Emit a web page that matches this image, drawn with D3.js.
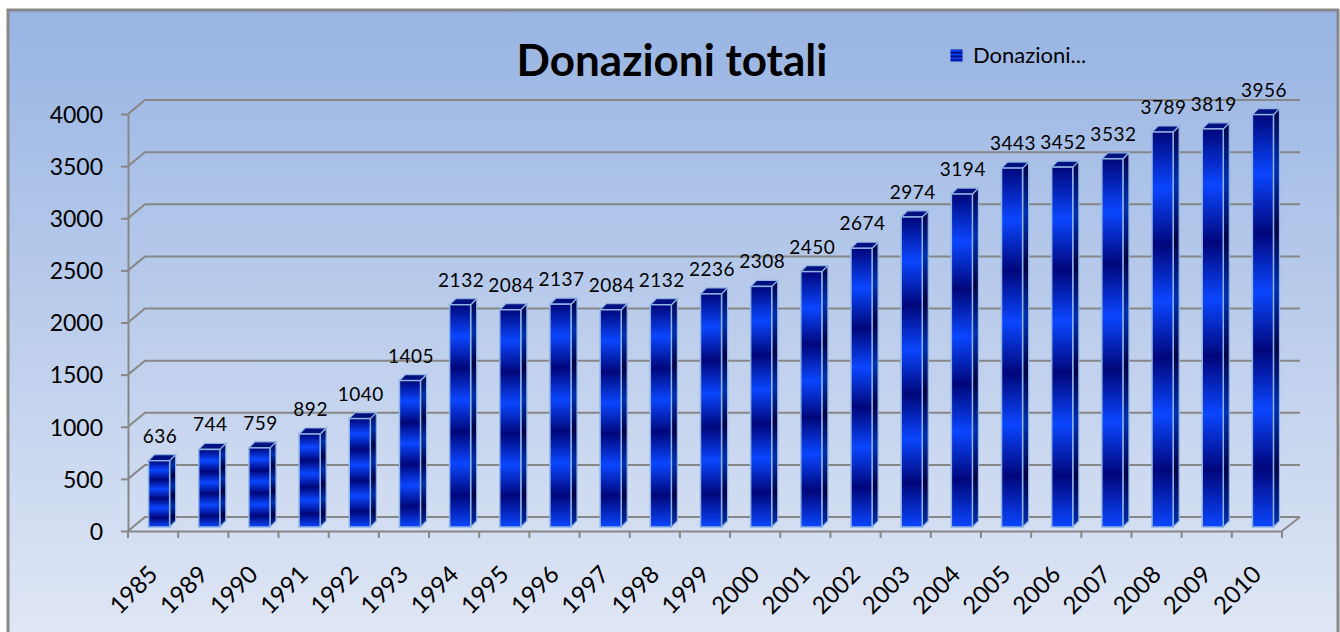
<!DOCTYPE html>
<html>
<head>
<meta charset="utf-8">
<script src="https://cdn.jsdelivr.net/npm/d3@7"></script>
<style>
  html, body { margin: 0; padding: 0; background: #fff; }
  svg { display: block; }
  text { font-family: Lato, "Open Sans", sans-serif; fill: #000; }
</style>
</head>
<body>
<svg id="chart" width="1340" height="632"></svg>
<script>
// dati
const anni = ["1985","1989","1990","1991","1992","1993","1994","1995","1996","1997","1998",
  "1999","2000","2001","2002","2003","2004","2005","2006","2007","2008","2009","2010"];
const donazioni = [636,744,759,892,1040,1405,2132,2084,2137,2084,2132,2236,2308,2450,
  2674,2974,3194,3443,3452,3532,3789,3819,3956];
const tickY = [0,500,1000,1500,2000,2500,3000,3500,4000];
const titolo = "Donazioni totali";
const legenda = "Donazioni...";

const svg = d3.select("#chart");
const W = 1340, H = 632;

// profondità del pavimento/pareti (effetto 3D)
const prof = { dx: 17, dy: -14 };
const barraProf = { dx: 6, dy: -6 };

const x = d3.scaleBand().domain(anni).range([128, 1282]).padding(0);
const y = d3.scaleLinear().domain([0, 4000]).range([531, 114]);

const defs = svg.append("defs");

// sfondo
const gSfondo = defs.append("linearGradient").attr("id", "sfondo")
  .attr("x1", 0).attr("y1", 0).attr("x2", 0).attr("y2", 1);
gSfondo.append("stop").attr("offset", 0).attr("stop-color", "#98b4e3");
gSfondo.append("stop").attr("offset", 1).attr("stop-color", "#e0e7f5");

// bande delle barre
const gFronte = defs.append("linearGradient").attr("id", "fronte")
  .attr("x1", 0).attr("y1", 0).attr("x2", 0).attr("y2", 1 / 3.5)
  .attr("spreadMethod", "repeat");
gFronte.append("stop").attr("offset", 0).attr("stop-color", "#00067a");
gFronte.append("stop").attr("offset", 0.5).attr("stop-color", "#0a46ff");
gFronte.append("stop").attr("offset", 1).attr("stop-color", "#00067a");

const gLato = defs.append("linearGradient").attr("id", "lato")
  .attr("x1", 0).attr("y1", 0).attr("x2", 0).attr("y2", 1 / 3.5)
  .attr("spreadMethod", "repeat");
gLato.append("stop").attr("offset", 0).attr("stop-color", "#000045");
gLato.append("stop").attr("offset", 0.5).attr("stop-color", "#0030b0");
gLato.append("stop").attr("offset", 1).attr("stop-color", "#000045");

svg.append("rect").attr("x", 8).attr("y", 10).attr("width", W - 10).attr("height", H)
  .attr("fill", "url(#sfondo)").attr("stroke", "#888").attr("stroke-width", 3);

// titolo e legenda
svg.append("text").attr("x", 672).attr("y", 76).attr("text-anchor", "middle")
  .attr("font-size", 44).attr("font-weight", "bold").text(titolo);

const leg = svg.append("g").attr("transform", "translate(950,49)");
leg.append("rect").attr("width", 13).attr("height", 13)
  .attr("fill", "url(#fronte)").attr("stroke", "#8fb3e3").attr("stroke-width", 1);
leg.append("text").attr("x", 23).attr("y", 14).attr("font-size", 22).text(legenda);

const grigio = "#878787";

// griglia sulla parete di fondo
const griglia = svg.append("g").attr("stroke", grigio).attr("stroke-width", 2).attr("fill", "none");
griglia.selectAll("path.gl").data(tickY).enter().append("path").attr("class", "gl")
  .attr("d", d => `M128,${y(d)}L${128 + prof.dx},${y(d) + prof.dy}L1300,${y(d) + prof.dy}`);
// lato destro del pavimento
griglia.append("path")
  .attr("d", `M${x.range()[1]},${y(0)}L${x.range()[1] + prof.dx + 1},${y(0) + prof.dy}`);

// asse Y
const assey = svg.append("g").attr("transform", "translate(128,0)")
  .call(d3.axisLeft(y).tickValues(tickY).tickFormat(d3.format("d"))
    .tickSize(7).tickSizeOuter(0).tickPadding(18));
assey.select(".domain").attr("stroke", grigio).attr("stroke-width", 2);
assey.selectAll(".tick line").attr("stroke", grigio).attr("stroke-width", 2);
assey.selectAll(".tick text").attr("font-size", 23).attr("font-family", "Lato").attr("dy", "0.36em");

// asse X
const assex = svg.append("g").attr("transform", `translate(0,${y(0)})`)
  .call(d3.axisBottom(x).tickSize(0).tickSizeOuter(0));
assex.select(".domain").attr("stroke", grigio).attr("stroke-width", 2);
assex.selectAll(".tick text")
  .attr("font-size", 24).attr("font-family", "Lato")
  .attr("text-anchor", "end")
  .attr("transform", "translate(6,45) rotate(-45)")
  .attr("y", 0).attr("dy", 0);
// tacche ai confini delle categorie
assex.selectAll("line.sep").data(anni.concat(["fine"])).enter().append("line")
  .attr("class", "sep")
  .attr("x1", (d, i) => x.range()[0] + i * x.bandwidth())
  .attr("x2", (d, i) => x.range()[0] + i * x.bandwidth())
  .attr("y1", 0).attr("y2", 7)
  .attr("stroke", grigio).attr("stroke-width", 2);

// barre 3D
const alzo = 4; // le barre stanno a metà profondità
const bw = x.bandwidth();
const barre = svg.append("g").selectAll("g").data(anni.map((a, i) => ({ anno: a, valore: donazioni[i] })))
  .enter().append("g");

const x0 = d => x(d.anno) + bw * 0.41;
const larg = bw * 0.42;
const yTop = d => y(d.valore) - alzo;
const yBase = y(0) - alzo;

barre.append("path")
  .attr("d", d => `M${x0(d) + larg},${yTop(d)}L${x0(d) + larg + barraProf.dx},${yTop(d) + barraProf.dy}` +
    `L${x0(d) + larg + barraProf.dx},${yBase + barraProf.dy}L${x0(d) + larg},${yBase}Z`)
  .attr("fill", "url(#lato)").attr("stroke", "#8fb3e3").attr("stroke-width", 1.2);

barre.append("path")
  .attr("d", d => `M${x0(d)},${yTop(d)}L${x0(d) + barraProf.dx},${yTop(d) + barraProf.dy}` +
    `L${x0(d) + larg + barraProf.dx},${yTop(d) + barraProf.dy}L${x0(d) + larg},${yTop(d)}Z`)
  .attr("fill", "#001080").attr("stroke", "#8fb3e3").attr("stroke-width", 1.2);

barre.append("rect")
  .attr("x", x0).attr("y", yTop)
  .attr("width", larg).attr("height", d => yBase - yTop(d))
  .attr("fill", "url(#fronte)").attr("stroke", "#8fb3e3").attr("stroke-width", 1.5);

// etichette dei valori
barre.append("text")
  .attr("x", d => x0(d) + larg / 2 + 1)
  .attr("y", d => yTop(d) - 18)
  .attr("text-anchor", "middle")
  .attr("font-family", "DejaVu Sans")
  .attr("font-size", 19)
  .attr("letter-spacing", 0.5)
  .text(d => d.valore);
</script>
</body>
</html>
